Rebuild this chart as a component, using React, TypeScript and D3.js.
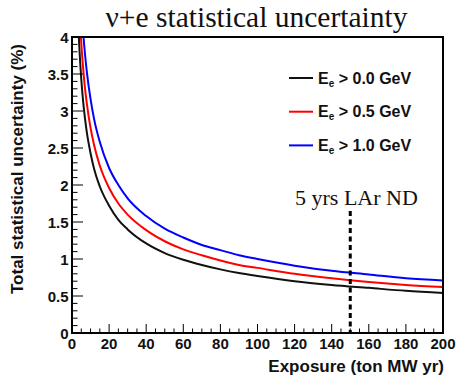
import React from "react";
import * as d3 from "d3";

const exposure = [3.5, 4, 5, 6, 7, 8, 10, 12, 15, 20, 25, 30, 40, 50, 60, 70, 80, 90, 100, 120, 140, 160, 180, 200];
const unc00 = [4.10, 3.84, 3.43, 3.13, 2.90, 2.71, 2.43, 2.21, 1.98, 1.72, 1.53, 1.40, 1.21, 1.08, 0.99, 0.92, 0.86, 0.81, 0.77, 0.70, 0.65, 0.61, 0.57, 0.54];
const unc05 = [4.69, 4.39, 3.92, 3.58, 3.31, 3.10, 2.77, 2.53, 2.26, 1.96, 1.75, 1.60, 1.39, 1.24, 1.13, 1.05, 0.98, 0.92, 0.88, 0.80, 0.74, 0.69, 0.65, 0.62];
const unc10 = [5.33, 4.99, 4.46, 4.07, 3.77, 3.53, 3.16, 2.88, 2.58, 2.23, 2.00, 1.82, 1.58, 1.41, 1.29, 1.19, 1.12, 1.05, 1.00, 0.91, 0.84, 0.79, 0.74, 0.71];
const seriesLabels = ["> 0.0 GeV", "> 0.5 GeV", "> 1.0 GeV"];
const seriesColors = ["#111111", "#ff0000", "#0000ff"];
const xTicks = [0, 20, 40, 60, 80, 100, 120, 140, 160, 180, 200];
const yTicks = [0, 0.5, 1, 1.5, 2, 2.5, 3, 3.5, 4];
const markerExposure = 150;
const markerTop = 1.65;

const W = 457, H = 378;
const L = 72, R = 443, T = 37, B = 333;

export default function App() {
  const x = d3.scaleLinear().domain([0, 200]).range([L, R]);
  const y = d3.scaleLinear().domain([0, 4]).range([B, T]);
  const line = d3
    .line<[number, number]>()
    .x((d) => x(d[0]))
    .y((d) => y(d[1]))
    .curve(d3.curveMonotoneX);
  const series = [unc00, unc05, unc10];
  const xMinor = d3.range(0, 201, 5).filter((v) => v % 20 !== 0);
  const yMinor = d3.range(0, 41, 1).map((v) => v / 10).filter((v) => Math.round(v * 10) % 5 !== 0);
  const sans = "'Liberation Sans', Arial, sans-serif";
  const serif = "'Liberation Serif', 'Times New Roman', serif";

  return (
    <svg width={W} height={H} style={{ position: "absolute", left: 0, top: 0, background: "#fff" }}>
      <defs>
        <clipPath id="plotclip">
          <rect x={L} y={T} width={R - L} height={B - T} />
        </clipPath>
      </defs>
      <rect x={0} y={0} width={W} height={H} fill="#fff" />
      <text x={256.5} y={27} textAnchor="middle" fontFamily={serif} fontSize={29.5} fill="#111">
        ν+e statistical uncertainty
      </text>

      {/* curves */}
      <g clipPath="url(#plotclip)">
        {series.map((s, i) => (
          <path
            key={i}
            d={line(exposure.map((e, j) => [e, s[j]]) as [number, number][]) || ""}
            fill="none"
            stroke={seriesColors[i]}
            strokeWidth={2}
          />
        ))}
      </g>

      {/* dashed marker */}
      <line
        x1={x(markerExposure)}
        x2={x(markerExposure)}
        y1={y(markerTop)}
        y2={B}
        stroke="#000"
        strokeWidth={3}
        strokeDasharray="5,3.5"
      />
      <text x={295} y={205} fontFamily={serif} fontSize={22} fill="#111">
        5 yrs LAr ND
      </text>

      {/* ticks */}
      <g stroke="#000" strokeWidth={1}>
        {xTicks.map((t) => (
          <line key={"xt" + t} x1={x(t)} x2={x(t)} y1={B} y2={B - 9} />
        ))}
        {xMinor.map((t) => (
          <line key={"xm" + t} x1={x(t)} x2={x(t)} y1={B} y2={B - 4.5} />
        ))}
        {yTicks.map((t) => (
          <line key={"yt" + t} x1={L} x2={L + 11} y1={y(t)} y2={y(t)} />
        ))}
        {yMinor.map((t) => (
          <line key={"ym" + t} x1={L} x2={L + 5.5} y1={y(t)} y2={y(t)} />
        ))}
      </g>

      {/* frame */}
      <rect x={L} y={T} width={R - L} height={B - T} fill="none" stroke="#000" strokeWidth={2} />

      {/* tick labels */}
      <g fontFamily={sans} fontWeight="bold" fontSize={15} fill="#111">
        {xTicks.map((t) => (
          <text key={"xl" + t} x={x(t)} y={348.5} textAnchor="middle">
            {t}
          </text>
        ))}
        {yTicks.map((t) => (
          <text key={"yl" + t} x={68.5} y={y(t) + 5.5} textAnchor="end">
            {String(t)}
          </text>
        ))}
      </g>

      {/* axis titles */}
      <text x={444} y={372} textAnchor="end" fontFamily={sans} fontWeight="bold" fontSize={17} fill="#111">
        Exposure (ton MW yr)
      </text>
      <text
        transform={`translate(23,169) rotate(-90)`}
        textAnchor="middle"
        fontFamily={sans}
        fontWeight="bold"
        fontSize={17}
        fill="#111"
      >
        Total statistical uncertainty (%)
      </text>

      {/* legend */}
      {seriesLabels.map((lab, i) => {
        const yy = 78 + i * 33.7;
        return (
          <g key={"lg" + i}>
            <line x1={289} x2={313} y1={yy} y2={yy} stroke={seriesColors[i]} strokeWidth={2} />
            <text x={318} y={yy + 5.5} fontFamily={sans} fontWeight="bold" fontSize={16} fill="#111">
              E
              <tspan fontSize={10} dy={3}>e</tspan>
              <tspan dy={-3}> {lab}</tspan>
            </text>
          </g>
        );
      })}
    </svg>
  );
}
